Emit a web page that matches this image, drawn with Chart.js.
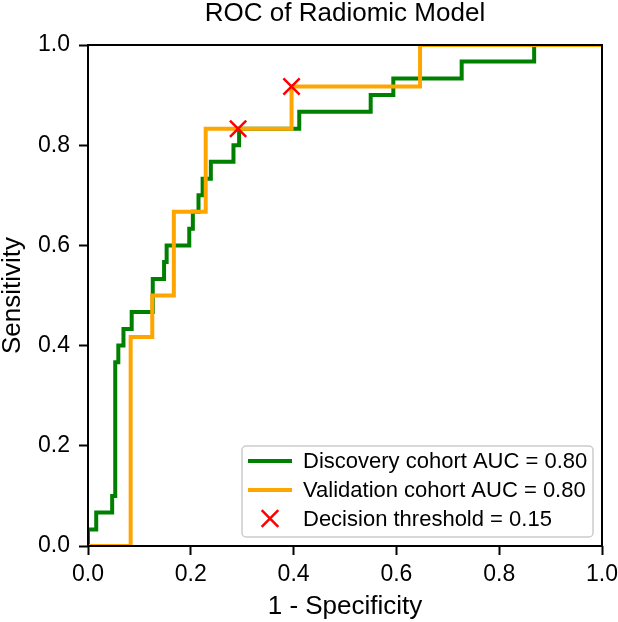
<!DOCTYPE html>
<html>
<head>
<meta charset="utf-8">
<script src="https://cdn.jsdelivr.net/npm/chart.js@4.4.0/dist/chart.umd.min.js"></script>
<style>
  html, body { margin: 0; padding: 0; background: #fff; }
  #wrap { width: 618px; height: 622px; position: relative; }
</style>
</head>
<body>
<div id="wrap"><canvas id="rocChart"></canvas></div>
<script>
// Discovery cohort ROC, corner points of the step curve
const discoveryFpr = [0, 0, 0.016, 0.016, 0.047, 0.047, 0.053, 0.053, 0.059, 0.059, 0.069, 0.069,
    0.085, 0.085, 0.126, 0.126, 0.148, 0.148, 0.153, 0.153, 0.197, 0.197, 0.204, 0.204,
    0.215, 0.215, 0.223, 0.223, 0.239, 0.239, 0.283, 0.283, 0.294, 0.294, 0.411, 0.411,
    0.55, 0.55, 0.594, 0.594, 0.727, 0.727, 0.868, 0.868, 1.0];
const discoveryTpr = [0, 0.033, 0.033, 0.067, 0.067, 0.1, 0.1, 0.367, 0.367, 0.4, 0.4, 0.433,
    0.433, 0.467, 0.467, 0.533, 0.533, 0.567, 0.567, 0.6, 0.6, 0.633, 0.633, 0.667,
    0.667, 0.7, 0.7, 0.733, 0.733, 0.767, 0.767, 0.8, 0.8, 0.833, 0.833, 0.867,
    0.867, 0.9, 0.9, 0.933, 0.933, 0.967, 0.967, 1.0, 1.0];

// Validation cohort ROC
const validationFpr = [0, 0.083, 0.083, 0.125, 0.125, 0.167, 0.167, 0.229, 0.229, 0.396, 0.396, 0.646, 0.646, 1.0];
const validationTpr = [0, 0, 0.417, 0.417, 0.5, 0.5, 0.667, 0.667, 0.833, 0.833, 0.917, 0.917, 1.0, 1.0];

// Decision threshold markers
const thresholdFpr = [0.292, 0.396];
const thresholdTpr = [0.833, 0.917];

const axisTicks = [0, 0.2, 0.4, 0.6, 0.8, 1.0];
const legendLabels = ['Discovery cohort AUC = 0.80', 'Validation cohort AUC = 0.80', 'Decision threshold = 0.15'];

const FONT = "'Liberation Sans', Arial, sans-serif";
Chart.defaults.font.family = FONT;
Chart.defaults.color = '#000';

const toPoints = (xs, ys) => xs.map((x, i) => ({ x: x, y: ys[i] }));

// matplotlib style box round the axes plus the legend in the lower right corner
const frameAndLegend = {
    id: 'frameAndLegend',
    afterDraw(chart) {
        const { ctx, chartArea: a } = chart;
        ctx.save();
        ctx.strokeStyle = '#000';
        ctx.lineWidth = 2;
        ctx.strokeRect(a.left, a.top, a.right - a.left, a.bottom - a.top);

        const boxW = 351, boxH = 91;
        const bx = a.right - 9 - boxW;
        const by = a.bottom - 9 - boxH;
        ctx.beginPath();
        if (ctx.roundRect) ctx.roundRect(bx, by, boxW, boxH, 4);
        else ctx.rect(bx, by, boxW, boxH);
        ctx.fillStyle = 'rgba(255,255,255,0.8)';
        ctx.fill();
        ctx.strokeStyle = '#cccccc';
        ctx.lineWidth = 1.5;
        ctx.stroke();

        const rows = [by + 15, by + 44, by + 72.5];
        const colors = ['#008000', '#ffa500'];
        ctx.lineWidth = 4;
        for (let i = 0; i < 2; i++) {
            ctx.strokeStyle = colors[i];
            ctx.beginPath();
            ctx.moveTo(bx + 6, rows[i]);
            ctx.lineTo(bx + 50, rows[i]);
            ctx.stroke();
        }
        // red x
        const cx = bx + 28, cy = rows[2], r = 8.3;
        ctx.strokeStyle = '#ff0000';
        ctx.lineWidth = 2.5;
        ctx.beginPath();
        ctx.moveTo(cx - r, cy - r); ctx.lineTo(cx + r, cy + r);
        ctx.moveTo(cx - r, cy + r); ctx.lineTo(cx + r, cy - r);
        ctx.stroke();

        ctx.fillStyle = '#000';
        ctx.font = '22px ' + FONT;
        ctx.textBaseline = 'middle';
        ctx.textAlign = 'left';
        legendLabels.forEach((t, i) => ctx.fillText(t, bx + 61, rows[i] + 1));
        ctx.restore();
    }
};

const tickSetup = {
    min: 0,
    max: 1,
    afterBuildTicks: (scale) => { scale.ticks = axisTicks.map(v => ({ value: v })); },
    grid: {
        display: true,
        drawOnChartArea: false,
        drawTicks: true,
        tickLength: 9,
        tickWidth: 2,
        tickColor: '#000'
    },
    border: { display: false }
};

const ctx = document.getElementById('rocChart').getContext('2d');
const rocChart = new Chart(ctx, {
    type: 'line',
    data: {
        datasets: [
            {
                label: legendLabels[2],
                data: toPoints(thresholdFpr, thresholdTpr),
                showLine: false,
                pointStyle: 'crossRot',
                pointRadius: 11.5,
                pointBorderWidth: 2.5,
                borderColor: '#ff0000',
                backgroundColor: '#ff0000',
                order: 0
            },
            {
                label: legendLabels[1],
                data: toPoints(validationFpr, validationTpr),
                borderColor: '#ffa500',
                borderWidth: 4,
                pointRadius: 0,
                tension: 0,
                fill: false,
                order: 1
            },
            {
                label: legendLabels[0],
                data: toPoints(discoveryFpr, discoveryTpr),
                borderColor: '#008000',
                borderWidth: 4,
                pointRadius: 0,
                tension: 0,
                fill: false,
                order: 2
            }
        ]
    },
    options: {
        responsive: true,
        maintainAspectRatio: false,
        animation: false,
        layout: { padding: { left: 0, right: 0, top: 0, bottom: 0 } },
        plugins: {
            legend: { display: false },
            tooltip: { enabled: false },
            title: {
                display: true,
                text: 'ROC of Radiomic Model',
                fullSize: false,
                color: '#000',
                font: { size: 26, weight: 'normal', lineHeight: 1.0 },
                padding: { top: 1, bottom: 18 }
            }
        },
        scales: {
            x: Object.assign({}, tickSetup, {
                type: 'linear',
                afterFit: (scale) => { scale.height = 76; scale.paddingRight = 16; },
                ticks: {
                    font: { size: 23 },
                    padding: 6,
                    maxRotation: 0,
                    callback: (v) => Number(v).toFixed(1)
                },
                title: {
                    display: true,
                    text: '1 - Specificity',
                    font: { size: 26, lineHeight: 1.0 },
                    padding: { top: 0, bottom: 2 }
                }
            }),
            y: Object.assign({}, tickSetup, {
                type: 'linear',
                afterFit: (scale) => { scale.width = 88; },
                ticks: {
                    font: { size: 23 },
                    padding: 9,
                    callback: (v) => Number(v).toFixed(1)
                },
                title: {
                    display: true,
                    text: 'Sensitivity',
                    font: { size: 26, lineHeight: 1.0 },
                    padding: { top: 0, bottom: 0 }
                }
            })
        }
    },
    plugins: [frameAndLegend]
});
</script>
</body>
</html>
